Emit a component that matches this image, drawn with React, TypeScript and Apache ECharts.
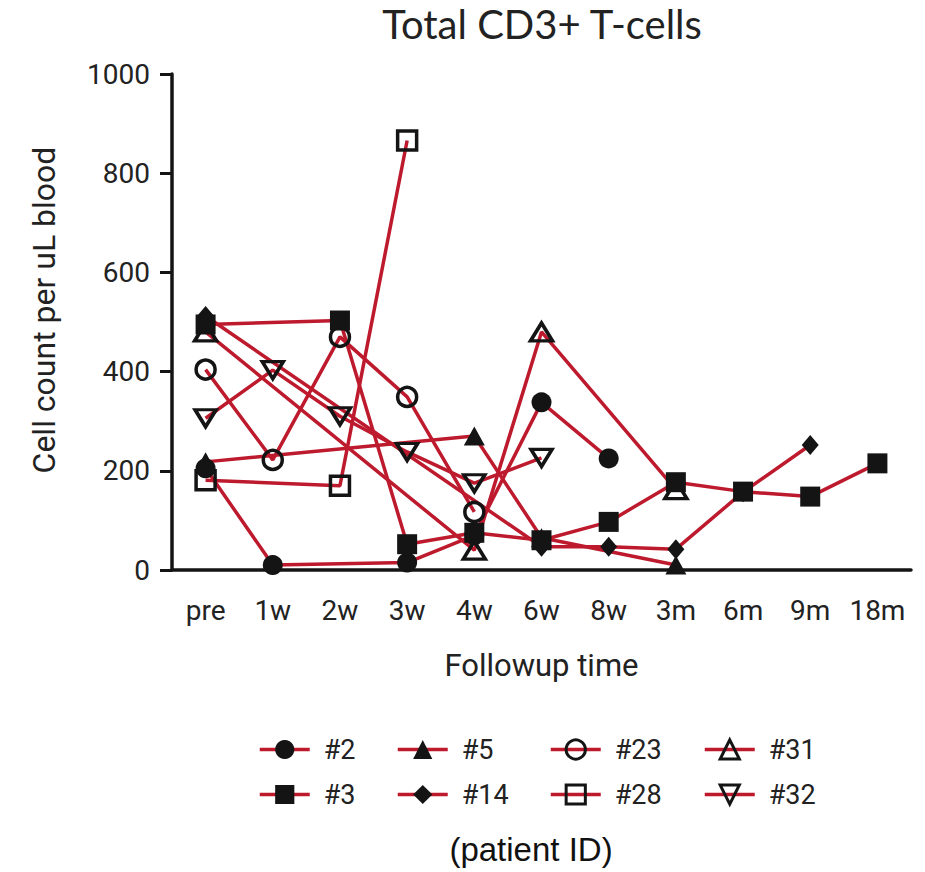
import React, { useEffect, useRef } from 'react';
import * as echarts from 'echarts';

const categories = ['pre', '1w', '2w', '3w', '4w', '6w', '8w', '3m', '6m', '9m', '18m'];
const yTicks = [0, 200, 400, 600, 800, 1000];

const p2 = [205, 10, null, 15, 70, 338, 225, null, null, null, null];
const p3 = [495, null, 503, 52, 75, 60, 97, 177, 158, 148, 215];
const p5 = [218, null, null, null, 270, 65, null, 10, null, null, null];
const p14 = [512, null, null, null, null, 47, 47, 42, 157, 252, null];
const p23 = [404, 222, 470, 349, 117, null, null, null, null, null, null];
const p28 = [181, null, 170, 866, null, null, null, null, null, null, null];
const p31 = [480, null, null, null, 40, 480, null, 162, null, null, null];
const p32 = [306, 403, 310, 238, 175, 226, null, null, null, null, null];

const RED = '#BE1A2E';
const INK = '#141414';

type Spec = {
  name: string;
  data: (number | null)[];
  symbol: string;
  size: number | number[];
  open: boolean;
  rotate?: number;
  lx: number;
  ly: number;
};

const specs: Spec[] = [
  { name: '#28', data: p28, symbol: 'rect', size: 19, open: true, lx: 549, ly: 781 },
  { name: '#32', data: p32, symbol: 'triangle', size: [21, 17], open: true, rotate: 180, lx: 703, ly: 781 },
  { name: '#23', data: p23, symbol: 'circle', size: 19, open: true, lx: 549, ly: 736 },
  { name: '#31', data: p31, symbol: 'triangle', size: [22, 18], open: true, lx: 703, ly: 736 },
  { name: '#5', data: p5, symbol: 'triangle', size: [21, 19], open: false, lx: 396, ly: 736 },
  { name: '#14', data: p14, symbol: 'diamond', size: [17, 20], open: false, lx: 396, ly: 781 },
  { name: '#3', data: p3, symbol: 'rect', size: 20, open: false, lx: 258, ly: 781 },
  { name: '#2', data: p2, symbol: 'circle', size: 20, open: false, lx: 258, ly: 736 },
];

export default function App() {
  const ref = useRef<HTMLDivElement>(null);
  useEffect(() => {
    if (!ref.current) return;
    const chart = echarts.init(ref.current, undefined, { renderer: 'svg' });
    const series = specs.map((s) => ({
      name: s.name,
      type: 'line',
      data: s.data,
      connectNulls: true,
      symbol: s.symbol,
      symbolSize: s.size,
      symbolRotate: s.rotate || 0,
      showAllSymbol: true,
      lineStyle: { color: RED, width: 3.5 },
      itemStyle: s.open
        ? { color: 'transparent', borderColor: INK, borderWidth: 3.5 }
        : { color: INK, borderColor: INK, borderWidth: 0 },
      emphasis: { disabled: true },
    }));
    const legends = specs.map((s) => ({
      data: [s.name],
      left: s.lx,
      top: s.ly,
      orient: 'horizontal',
      itemWidth: 50,
      itemHeight: 24,
      padding: 0,
      selectedMode: false,
      itemStyle: s.open
        ? { color: 'transparent', borderColor: INK, borderWidth: 3 }
        : { color: INK, borderColor: INK, borderWidth: 0 },
      lineStyle: { color: RED, width: 3.5 },
      textStyle: {
        fontFamily: 'Roboto, sans-serif',
        fontSize: 27,
        color: '#222',
        padding: [0, 0, 0, 9],
      },
    }));
    chart.setOption({
      animation: false,
      backgroundColor: '#fff',
      grid: { left: 172, right: 14, top: 74, bottom: 302, containLabel: false },
      legend: legends,
      graphic: [
        {
          type: 'text',
          x: 542,
          y: 24,
          style: {
            text: 'Total CD3+ T-cells',
            fill: '#222',
            fontFamily: 'Lato, sans-serif',
            fontSize: 40,
            align: 'center',
            verticalAlign: 'middle',
          },
        },
        {
          type: 'text',
          x: 531,
          y: 849,
          style: {
            text: '(patient ID)',
            fill: '#111',
            fontFamily: '"Liberation Sans", Arial, sans-serif',
            fontSize: 33,
            align: 'center',
            verticalAlign: 'middle',
          },
        },
      ],
      xAxis: {
        type: 'category',
        data: categories,
        boundaryGap: true,
        name: 'Followup time',
        nameLocation: 'middle',
        nameGap: 80,
        nameTextStyle: { fontFamily: 'Roboto, sans-serif', fontSize: 31, color: '#222' },
        axisLine: { lineStyle: { color: INK, width: 3.5 } },
        axisTick: { alignWithLabel: true, interval: 0, length: 12, lineStyle: { color: INK, width: 3 } },
        axisLabel: { interval: 0, margin: 26, fontFamily: 'Roboto, sans-serif', fontSize: 28, color: '#222' },
        splitLine: { show: false },
      },
      yAxis: {
        type: 'value',
        min: yTicks[0],
        max: yTicks[yTicks.length - 1],
        interval: 200,
        name: 'Cell count per uL blood',
        nameLocation: 'middle',
        nameGap: 112,
        nameTextStyle: {
          fontFamily: 'Roboto, sans-serif',
          fontSize: 32,
          color: '#222',
          padding: [0, 0, 0, 24],
        },
        axisLine: { show: true, lineStyle: { color: INK, width: 3.5 } },
        axisTick: { show: true, length: 12, lineStyle: { color: INK, width: 3 } },
        axisLabel: {
          margin: 22,
          fontFamily: 'Roboto, sans-serif',
          fontSize: 28,
          color: '#222',
          formatter: (v: number) => String(v),
        },
        splitLine: { show: false },
      },
      series,
    });
    return () => chart.dispose();
  }, []);
  return (
    <div
      ref={ref}
      style={{ position: 'fixed', left: 0, top: 0, width: 925, height: 872, background: '#fff' }}
    />
  );
}
